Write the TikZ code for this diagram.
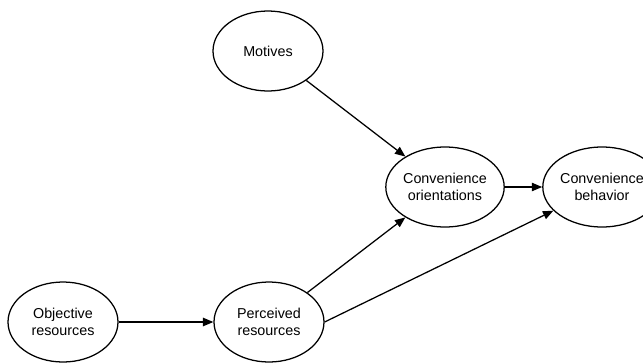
\documentclass[tikz,border=0pt]{standalone}
\usepackage{fontspec}
\setmainfont{Liberation Sans}
\usepackage{tikz}
\usetikzlibrary{arrows.meta,shapes.geometric}

\begin{document}
\begin{tikzpicture}[
  construct/.style={ellipse, draw, line width=0.9pt, inner sep=0pt,
    minimum width=2.75cm, minimum height=2cm, align=center,
    font=\fontsize{10.2}{12.5}\selectfont},
  path/.style={line width=0.9pt, -{Triangle[length=2.6mm,width=2.1mm]}}]
\useasboundingbox (0,0) rectangle (16.075,9.05);
\node[construct] (motives) at (6.7,7.775) {Motives};
\node[construct] (orient) at (11.125,4.375) {Convenience\\orientations};
\node[construct] (behav) at (15.05,4.375) {Convenience\\behavior};
\node[construct] (objres) at (1.575,1.0) {Objective\\resources};
\node[construct] (perres) at (6.725,1.0) {Perceived\\resources};

\draw[path] (motives) -- (orient);
\draw[path] (orient) -- (behav);
\draw[path] (objres) -- (perres);
\draw[path] (perres) -- (orient);
\draw[path] (perres.east) -- (behav);
\end{tikzpicture}
\end{document}
